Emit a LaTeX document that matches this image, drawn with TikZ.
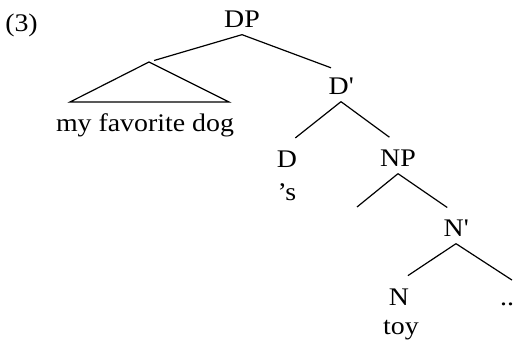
\documentclass[tikz,border=0pt]{standalone}
\usepackage{fontspec}
\setmainfont{Liberation Serif}[FakeStretch=1.1]
\usepackage{tikz}

\begin{document}
\begin{tikzpicture}[x=0.75pt,y=-0.75pt,
  every node/.style={font=\fontsize{19pt}{22pt}\selectfont,inner sep=0pt,anchor=base},
  cat/.style={outer ysep=5pt,text height=12.6pt,text depth=0pt},
  branch/.style={line width=0.9pt,shorten >=8pt}]
\useasboundingbox (0,0) rectangle (517,345);
\node [anchor=base west] (ex) at (5,32) {(3)};
\node [cat] (DP) at (242,28) {DP};
\node (mfd) at (145,132) {my favorite dog};
\node [cat] (Dbar) at (341,95) {D\textquotesingle};
\node [cat] (D) at (287,168) {D};
\node (poss) at (287,201) {'s};
\node [cat] (NP) at (398,167) {NP};
\node [cat] (Nbar) at (456,237) {N\textquotesingle};
\node [cat] (N) at (399,305) {N};
\node (toy) at (401,334) {toy};
\node [cat] (dots) at (507,305) {..};
\coordinate (apex) at (149,62);
\coordinate (npspec) at (357,207);
\draw [line width=0.9pt] (apex) -- ++(-79,40) -- ++(159,0) -- cycle;
\draw [branch,shorten >=4pt] (DP.south) -- (apex);
\draw [branch] (DP.south) -- (Dbar.north);
\draw [branch] (Dbar.south) -- (D.north);
\draw [branch] (Dbar.south) -- (NP.north);
\draw [branch,shorten >=0pt] (NP.south) -- (npspec);
\draw [branch] (NP.south) -- (Nbar.north);
\draw [branch] (Nbar.south) -- (N.north);
\draw [branch,shorten >=2pt] (Nbar.south) -- (dots.north east);
\end{tikzpicture}
\end{document}
